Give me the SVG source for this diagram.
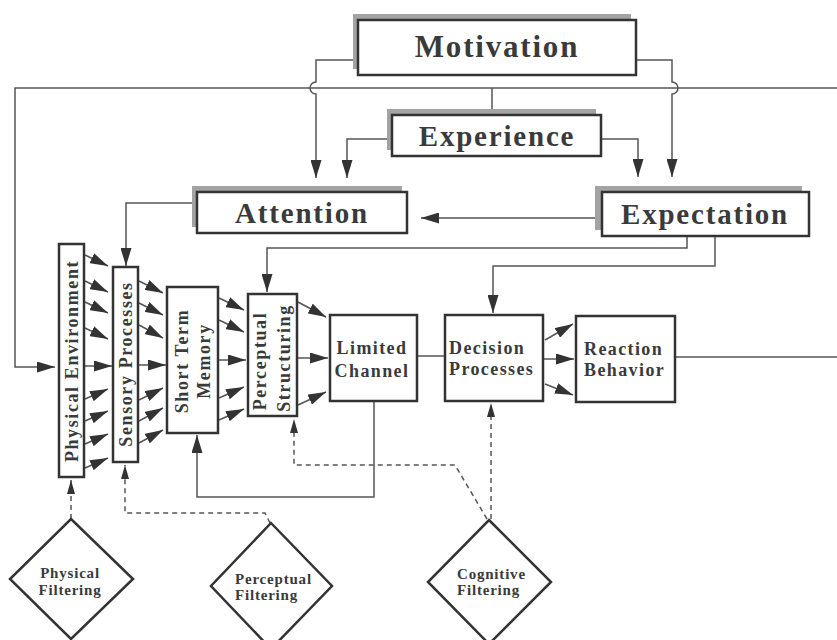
<svg xmlns="http://www.w3.org/2000/svg" width="837" height="640" viewBox="0 0 837 640">
<style>
.bx{fill:#fff;stroke:#333;stroke-width:2.5}
.sh{fill:#a3a3a3}
.ln{fill:none;stroke:#555;stroke-width:1.5}
.ds{fill:none;stroke:#555;stroke-width:1.5;stroke-dasharray:5 4}
.t{font-family:"Liberation Serif","Times New Roman",serif;font-weight:bold;fill:#3a3a3a}
.big{font-size:30px;letter-spacing:1.8px;text-anchor:middle}
.mid{font-size:18px;letter-spacing:1.4px}
.sm{font-size:15px;letter-spacing:0.8px}
.c{text-anchor:middle}
</style>
<defs>
<marker id="ah" viewBox="0 0 18 11" refX="18" refY="5.5" markerWidth="18" markerHeight="11" orient="auto" markerUnits="userSpaceOnUse"><path d="M0,0 L18,5.5 L0,11 z" fill="#333"/></marker>
<marker id="as" viewBox="0 0 14 8" refX="14" refY="4" markerWidth="14" markerHeight="8" orient="auto" markerUnits="userSpaceOnUse"><path d="M0,0 L14,4 L0,8 z" fill="#333"/></marker>
</defs>

<g id="connectors">
<path class="ln" d="M837,88 H15 V367 H55" marker-end="url(#ah)"/>
<path class="ln" d="M492,88 V109"/>
<path class="ln" d="M675,357 H837"/>
<path class="ln" d="M353,60 H316 V82 A6,6 0 0 0 316,94 V178" marker-end="url(#ah)"/>
<path class="ln" d="M636,60 H672 V82 A6,6 0 0 1 672,94 V177" marker-end="url(#ah)"/>
<path class="ln" d="M387,139 H347 V178" marker-end="url(#ah)"/>
<path class="ln" d="M601,139 H638 V177" marker-end="url(#ah)"/>
<path class="ln" d="M595,218 H421" marker-end="url(#ah)"/>
<path class="ln" d="M192,203 H126 V266" marker-end="url(#ah)"/>
<path class="ln" d="M687,236 V248 H267 V292" marker-end="url(#ah)"/>
<path class="ln" d="M715,236 V266 H493 V313" marker-end="url(#ah)"/>
<path class="ln" d="M417,356 H445"/>
<path class="ln" d="M374,401 V497 H197 V435" marker-end="url(#ah)"/>
<g class="ln">
<path d="M85,255 L108,266" marker-end="url(#ah)"/>
<path d="M85,281 L108,292" marker-end="url(#ah)"/>
<path d="M85,302 L108,313" marker-end="url(#ah)"/>
<path d="M85,328 L108,339" marker-end="url(#ah)"/>
<path d="M84,366 L112,366" marker-end="url(#ah)"/>
<path d="M85,399 L108,389" marker-end="url(#ah)"/>
<path d="M85,421 L108,411" marker-end="url(#ah)"/>
<path d="M85,444 L108,434" marker-end="url(#ah)"/>
<path d="M85,468 L108,458" marker-end="url(#ah)"/>
</g>
<g class="ln">
<path d="M139,281 L163,293" marker-end="url(#ah)"/>
<path d="M139,303 L163,315" marker-end="url(#ah)"/>
<path d="M139,325 L163,338" marker-end="url(#ah)"/>
<path d="M138,365 L166,365" marker-end="url(#ah)"/>
<path d="M139,400 L163,388" marker-end="url(#ah)"/>
<path d="M139,421 L163,408" marker-end="url(#ah)"/>
<path d="M139,443 L163,430" marker-end="url(#ah)"/>
</g>
<g class="ln">
<path d="M219,298 L244,310" marker-end="url(#ah)"/>
<path d="M219,320 L244,332" marker-end="url(#ah)"/>
<path d="M218,360 L246,360" marker-end="url(#ah)"/>
<path d="M219,398 L244,387" marker-end="url(#ah)"/>
<path d="M219,420 L244,409" marker-end="url(#ah)"/>
</g>
<g class="ln">
<path d="M298,302 L326,317" marker-end="url(#ah)"/>
<path d="M297,358 L328,358" marker-end="url(#ah)"/>
<path d="M298,405 L326,392" marker-end="url(#ah)"/>
</g>
<g class="ln">
<path d="M545,340 L573,324" marker-end="url(#ah)"/>
<path d="M544,359 L574,359" marker-end="url(#ah)"/>
<path d="M545,384 L573,395" marker-end="url(#ah)"/>
</g>
<path class="ds" d="M71,519 V480" marker-end="url(#as)"/>
<path class="ds" d="M270,523 L265,513 H125 V465" marker-end="url(#as)"/>
<path class="ds" d="M487,519 L455,465 H294 V419" marker-end="url(#as)"/>
<path class="ds" d="M491,519 V403" marker-end="url(#as)"/>
</g>

<g id="motivation">
<rect class="sh" x="353" y="14" width="278" height="55"/>
<rect class="bx" x="358" y="20" width="278" height="55"/>
<text class="t big" x="497" y="57" style="font-size:31px">Motivation</text>
</g>
<g id="experience">
<rect class="sh" x="387" y="109" width="209" height="41"/>
<rect class="bx" x="392" y="115" width="209" height="41"/>
<text class="t big" x="497" y="146" style="font-size:29px">Experience</text>
</g>
<g id="attention">
<rect class="sh" x="192" y="186" width="210" height="41"/>
<rect class="bx" x="197" y="192" width="210" height="41"/>
<text class="t big" x="302" y="223" style="font-size:29px">Attention</text>
</g>
<g id="expectation">
<rect class="sh" x="595" y="186" width="207" height="44"/>
<rect class="bx" x="602" y="192" width="207" height="44"/>
<text class="t big" x="705" y="224" style="font-size:29px">Expectation</text>
</g>

<g id="physical-environment">
<rect class="bx" x="59" y="244" width="25" height="233"/>
<text class="t mid c" transform="translate(78,361) rotate(-90)" style="letter-spacing:1.6px">Physical Environment</text>
</g>
<g id="sensory-processes">
<rect class="bx" x="113" y="267" width="25" height="195"/>
<text class="t mid c" transform="translate(132,364) rotate(-90)" style="letter-spacing:1.6px">Sensory Processes</text>
</g>
<g id="short-term-memory">
<rect class="bx" x="167" y="287" width="51" height="146"/>
<text class="t mid c" transform="translate(188,361) rotate(-90)" style="letter-spacing:1.6px">Short Term</text>
<text class="t mid c" transform="translate(210,361) rotate(-90)" style="letter-spacing:1.6px">Memory</text>
</g>
<g id="perceptual-structuring">
<rect class="bx" x="248" y="294" width="49" height="122"/>
<text class="t mid c" transform="translate(266,361) rotate(-90)" style="letter-spacing:1.6px">Perceptual</text>
<text class="t mid c" transform="translate(290,358) rotate(-90)" style="letter-spacing:1.6px">Structuring</text>
</g>
<g id="limited-channel">
<rect class="bx" x="330" y="315" width="87" height="86"/>
<text class="t mid c" x="372" y="354">Limited</text>
<text class="t mid c" x="372" y="377">Channel</text>
</g>
<g id="decision-processes">
<rect class="bx" x="445" y="315" width="98" height="86"/>
<text class="t mid" x="449" y="354">Decision</text>
<text class="t mid" x="449" y="375">Processes</text>
</g>
<g id="reaction-behavior">
<rect class="bx" x="576" y="316" width="99" height="86"/>
<text class="t mid" x="584" y="355">Reaction</text>
<text class="t mid" x="584" y="376">Behavior</text>
</g>

<g id="physical-filtering">
<path class="bx" d="M71,519 L133,579 L71,639 L10,579 Z"/>
<text class="t sm c" x="70" y="578">Physical</text>
<text class="t sm c" x="70" y="595">Filtering</text>
</g>
<g id="perceptual-filtering">
<path class="bx" d="M271,523 L332,586 L271,649 L211,586 Z"/>
<text class="t sm" x="235" y="584">Perceptual</text>
<text class="t sm" x="235" y="600">Filtering</text>
</g>
<g id="cognitive-filtering">
<path class="bx" d="M489,520 L551,582 L489,644 L428,582 Z"/>
<text class="t sm" x="457" y="579">Cognitive</text>
<text class="t sm" x="457" y="595">Filtering</text>
</g>
</svg>
